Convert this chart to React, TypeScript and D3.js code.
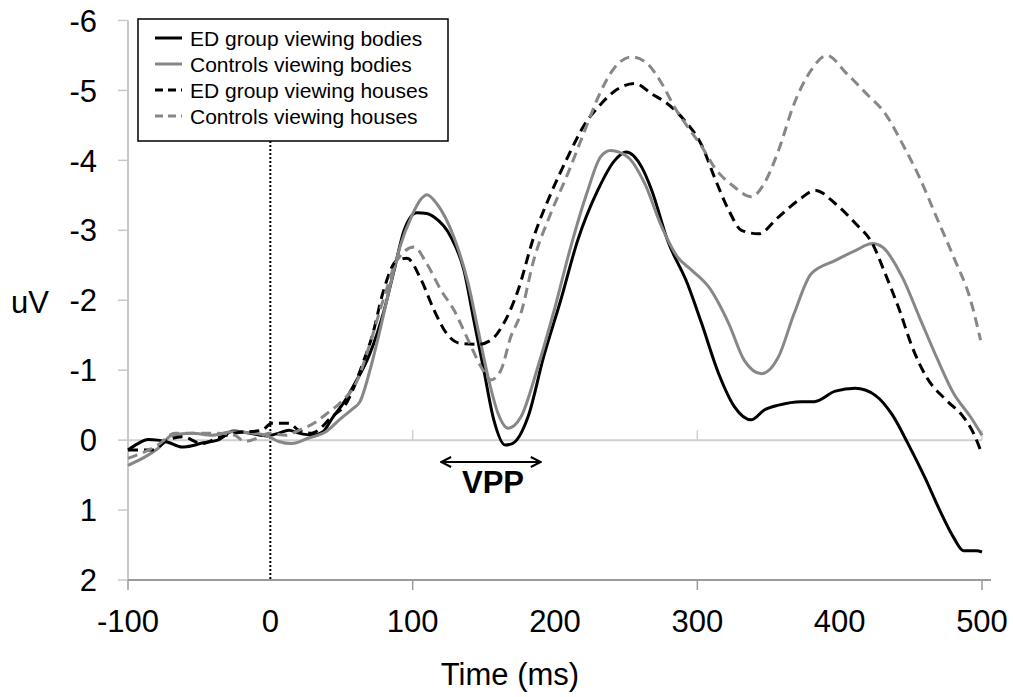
import React from "react";
import * as d3 from "d3";

type Pt = [number, number];

// Time (ms) / amplitude (uV) samples
const edBodies: Pt[] = [
  [-100, 0.14], [-93, 0.05], [-86, -0.01], [-79, 0.0], [-72, 0.03], [-62, 0.1], [-55, 0.08],
  [-48, 0.04], [-37, 0.0], [-26, -0.13], [-15, -0.1], [-2, -0.06], [6, -0.1], [13, -0.14],
  [20, -0.1], [30, -0.07], [37, -0.12], [44, -0.33], [52, -0.55], [58, -0.76], [70, -1.24],
  [80, -1.86], [87, -2.43], [94, -3.0], [103, -3.25], [110, -3.24], [115, -3.19], [127, -2.9],
  [136, -2.43], [143, -1.71], [150, -1.0], [157, -0.29], [165, 0.07], [170, 0.05], [181, -0.33],
  [192, -1.19], [204, -2.0], [216, -2.86], [230, -3.57], [242, -4.0], [250, -4.12], [261, -3.9],
  [268, -3.57], [279, -2.86], [293, -2.24], [303, -1.67], [315, -0.95], [326, -0.48], [338, -0.29],
  [347, -0.43], [357, -0.5], [373, -0.55], [382, -0.55], [397, -0.7], [411, -0.74], [425, -0.64],
  [437, -0.36], [448, 0.05], [460, 0.54], [470, 0.99], [480, 1.39], [487, 1.58], [496, 1.58], [500, 1.6],
];

const controlsBodies: Pt[] = [
  [-100, 0.36], [-88, 0.24], [-79, 0.12], [-69, -0.07], [-55, -0.1], [-41, -0.07], [-27, -0.12],
  [-13, -0.1], [-3, -0.07], [6, 0.02], [15, 0.05], [27, -0.03], [39, -0.12], [49, -0.3],
  [58, -0.45], [63, -0.55], [70, -1.0], [77, -1.57], [84, -2.19], [91, -2.76], [99, -3.19],
  [106, -3.45], [110, -3.51], [117, -3.38], [129, -2.9], [139, -2.24], [146, -1.57], [153, -0.9],
  [160, -0.38], [167, -0.17], [176, -0.33], [188, -1.05], [200, -1.9], [211, -2.76], [223, -3.57],
  [232, -4.05], [239, -4.14], [251, -4.05], [263, -3.67], [275, -3.05], [286, -2.62], [296, -2.43],
  [308, -2.19], [322, -1.67], [333, -1.14], [345, -0.95], [357, -1.19], [368, -1.81], [380, -2.38],
  [397, -2.57], [411, -2.71], [423, -2.81], [430, -2.76], [444, -2.33], [456, -1.76], [468, -1.19],
  [480, -0.67], [492, -0.33], [500, -0.07],
];

const edHouses: Pt[] = [
  [-100, 0.14], [-83, 0.14], [-72, 0.0], [-62, -0.05], [-48, 0.05], [-37, -0.03], [-25, -0.1],
  [-6, -0.14], [1, -0.24], [13, -0.24], [20, -0.14], [29, -0.1], [43, -0.33], [54, -0.55],
  [65, -1.1], [72, -1.52], [79, -2.1], [89, -2.57], [96, -2.6], [106, -2.29], [115, -1.86],
  [124, -1.52], [134, -1.38], [146, -1.37], [155, -1.43], [164, -1.67], [174, -2.14], [185, -2.9],
  [197, -3.52], [209, -4.05], [221, -4.52], [232, -4.8], [244, -5.02], [256, -5.1], [268, -4.95],
  [279, -4.81], [291, -4.57], [303, -4.22], [312, -3.76], [322, -3.29], [331, -3.0], [343, -2.95],
  [357, -3.19], [371, -3.43], [383, -3.57], [397, -3.38], [411, -3.1], [423, -2.81], [432, -2.38],
  [442, -1.86], [451, -1.33], [461, -0.9], [475, -0.57], [487, -0.33], [494, -0.1], [500, 0.2],
];

const controlsHouses: Pt[] = [
  [-100, 0.26], [-79, 0.07], [-67, -0.1], [-51, -0.1], [-37, -0.1], [-25, -0.07], [-18, 0.02],
  [-9, -0.03], [-1, -0.1], [11, -0.07], [20, -0.14], [32, -0.26], [41, -0.4], [50, -0.55],
  [61, -0.85], [70, -1.38], [80, -2.05], [89, -2.57], [101, -2.76], [110, -2.52], [120, -2.14],
  [129, -1.86], [139, -1.43], [148, -1.05], [155, -0.86], [162, -1.0], [169, -1.48], [176, -1.81],
  [185, -2.57], [197, -3.24], [209, -3.81], [221, -4.43], [232, -4.98], [242, -5.33], [254, -5.48],
  [265, -5.38], [275, -5.1], [284, -4.76], [296, -4.4], [303, -4.2], [312, -3.9], [326, -3.62],
  [338, -3.48], [347, -3.67], [357, -4.14], [368, -4.81], [380, -5.29], [391, -5.5], [405, -5.24],
  [419, -4.95], [432, -4.67], [444, -4.24], [456, -3.76], [468, -3.19], [480, -2.62], [492, -2.0],
  [499, -1.43],
];

const seriesNames = [
  "ED group viewing bodies",
  "Controls viewing bodies",
  "ED group viewing houses",
  "Controls viewing houses",
];
const seriesData = [edBodies, controlsBodies, edHouses, controlsHouses];
const seriesColors = ["#000000", "#878787", "#000000", "#878787"];
const seriesDashed = [false, false, true, true];

const xTickLabels = [-100, 0, 100, 200, 300, 400, 500];
const xTickMarks = [-100, 100, 300, 500];
const yTickLabels = [-6, -5, -4, -3, -2, -1, 0, 1, 2];

const FONT = "'Liberation Sans', Arial, Helvetica, sans-serif";

export default function App() {
  const W = 1013;
  const H = 697;
  const x = d3.scaleLinear().domain([-100, 500]).range([128, 982]);
  const y = d3.scaleLinear().domain([-6, 2]).range([20.5, 580]);

  const line = d3
    .line<Pt>()
    .x((d) => x(d[0]))
    .y((d) => y(d[1]))
    .curve(d3.curveMonotoneX);

  const legendX = 138;
  const legendY = 19;

  return (
    <svg
      width={W}
      height={H}
      viewBox={`0 0 ${W} ${H}`}
      style={{ position: "absolute", left: 0, top: 0, background: "#fff" }}
      fontFamily={FONT}
    >
      <rect x={0} y={0} width={W} height={H} fill="#fff" />
      {/* zero line */}
      <line x1={x(-100)} x2={x(500)} y1={y(0)} y2={y(0)} stroke="#cfcfcf" strokeWidth={2} />
      {xTickMarks
        .filter((t) => t > 0)
        .map((t) => (
          <line key={"zt" + t} x1={x(t)} x2={x(t)} y1={y(0) - 10} y2={y(0)} stroke="#cfcfcf" strokeWidth={1.5} />
        ))}
      {/* y axis */}
      <line x1={128} x2={128} y1={y(-6)} y2={y(2)} stroke="#c8c8c8" strokeWidth={2} />
      {yTickLabels.map((v) => (
        <g key={"y" + v}>
          <line x1={118} x2={128} y1={y(v)} y2={y(v)} stroke="#c8c8c8" strokeWidth={1.5} />
          <text x={97} y={y(v)} dy="0.36em" textAnchor="end" fontSize={31} fill="#000">
            {v < 0 ? "-" + Math.abs(v) : String(v)}
          </text>
        </g>
      ))}
      {/* x axis */}
      <line x1={128} x2={991} y1={y(2)} y2={y(2)} stroke="#9a9a9a" strokeWidth={2} />
      {xTickMarks.map((t) => (
        <line key={"xt" + t} x1={x(t)} x2={x(t)} y1={y(2)} y2={y(2) + 10} stroke="#9a9a9a" strokeWidth={1.5} />
      ))}
      {xTickLabels.map((t) => (
        <text key={"xl" + t} x={x(t)} y={632} textAnchor="middle" fontSize={31} fill="#000">
          {t < 0 ? "-" + Math.abs(t) : String(t)}
        </text>
      ))}
      <text x={510} y={685} textAnchor="middle" fontSize={31} fill="#000">
        Time (ms)
      </text>
      <text x={11} y={313} fontSize={31} fill="#000">
        uV
      </text>
      {/* stimulus onset */}
      <line x1={x(0)} x2={x(0)} y1={legendY + 122} y2={y(2)} stroke="#000" strokeWidth={2} strokeDasharray="2,2" />

      {/* series */}
      {seriesData.map((s, i) => (
        <path
          key={"s" + i}
          d={line(s) || ""}
          fill="none"
          stroke={seriesColors[i]}
          strokeWidth={3}
          strokeDasharray={seriesDashed[i] ? "10,6" : undefined}
          strokeLinejoin="round"
        />
      ))}

      {/* VPP annotation */}
      <defs>
        <marker id="arr" viewBox="0 0 12 12" refX="11" refY="6" markerWidth="12" markerHeight="12" orient="auto-start-reverse" markerUnits="userSpaceOnUse">
          <path d="M1,1 L11,6 L1,11" fill="none" stroke="#000" strokeWidth={2} />
        </marker>
      </defs>
      <line
        x1={x(120)}
        x2={x(190)}
        y1={462}
        y2={462}
        stroke="#000"
        strokeWidth={2}
        markerStart="url(#arr)"
        markerEnd="url(#arr)"
      />
      <text x={493} y={493} textAnchor="middle" fontSize={31} fontWeight="bold" fill="#000">
        VPP
      </text>

      {/* legend */}
      <rect x={legendX} y={legendY} width={310} height={122} fill="#fff" stroke="#000" strokeWidth={1.5} />
      {seriesNames.map((n, i) => (
        <g key={"l" + i}>
          <line
            x1={155}
            x2={182}
            y1={38 + i * 26}
            y2={38 + i * 26}
            stroke={seriesColors[i]}
            strokeWidth={3}
            strokeDasharray={seriesDashed[i] ? "8,5" : undefined}
          />
          <text x={190} y={38 + i * 26} dy="0.36em" fontSize={21} fill="#000">
            {n}
          </text>
        </g>
      ))}
    </svg>
  );
}
